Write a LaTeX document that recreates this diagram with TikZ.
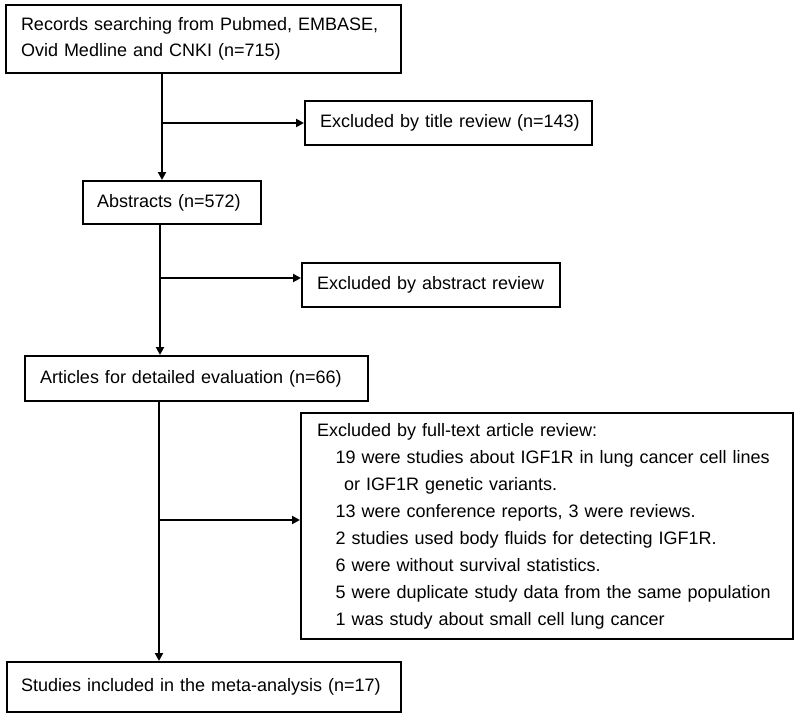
\documentclass[tikz,border=0pt]{standalone}
\usepackage{fontspec}
\setmainfont{Liberation Sans}
\usetikzlibrary{arrows.meta}
\begin{document}
\begin{tikzpicture}[x=1pt,y=-1pt,
  box/.style={draw=black, line width=2pt, rectangle, inner xsep=15pt, inner ysep=0pt,
    align=left, font=\fontsize{18}{26}\selectfont, anchor=center},
  arr/.style={line width=2pt, -{Triangle[length=8pt,width=8pt]}},
  ln/.style={line width=2pt}]
\useasboundingbox (0,0) rectangle (800,720);
\fill[white] (0,0) rectangle (800,720);

\node[box, minimum width=395, minimum height=68, text width=365] (rec) at (203.5,39)
  {\mbox{Records searching from Pubmed, EMBASE,}\\\mbox{Ovid Medline and CNKI (n=715)}};
\node[box, minimum width=287, minimum height=44, text width=257] (title) at (448.5,123)
  {\mbox{Excluded by title review (n=143)}};
\node[box, minimum width=178, minimum height=43, text width=150, inner xsep=14pt] (abs) at (172,202.5)
  {\mbox{Abstracts (n=572)}};
\node[box, minimum width=258, minimum height=44, text width=228] (absrev) at (431,285)
  {\mbox{Excluded by abstract review}};
\node[box, minimum width=343, minimum height=45, text width=313] (art) at (196.5,378.5)
  {\mbox{Articles for detailed evaluation (n=66)}};
\node[box, minimum width=492, minimum height=226, text width=460, inner xsep=16pt,
  font=\fontsize{18}{27}\selectfont] (full) at (547,526)
  {Excluded by full-text article review:\\
   \hspace*{18.5pt}\makebox[444pt][s]{19 were studies about IGF1R in lung cancer cell lines}\\
   \hspace*{27pt}or IGF1R genetic variants.\\
   \hspace*{18.5pt}13 were conference reports, 3 were reviews.\\
   \hspace*{18.5pt}2 studies used body fluids for detecting IGF1R.\\
   \hspace*{18.5pt}6 were without survival statistics.\\
   \hspace*{18.5pt}\mbox{5 were duplicate study data from the same population}\\
   \hspace*{18.5pt}1 was study about small cell lung cancer};
\node[box, minimum width=394, minimum height=50, text width=366, inner xsep=14pt] (fin) at (204,687)
  {\mbox{Studies included in the meta-analysis (n=17)}};

\coordinate (c1) at (162,0);
\coordinate (c2) at (160,0);
\coordinate (c3) at (159,0);
\coordinate (b1) at (162,123);
\coordinate (b2) at (160,278);
\coordinate (b3) at (159,520);

\draw[arr] (c1 |- rec.south) -- (c1 |- abs.north);
\draw[arr] (b1) -- (b1 -| title.west);
\draw[arr] (c2 |- abs.south) -- (c2 |- art.north);
\draw[arr] (b2) -- (b2 -| absrev.west);
\draw[arr] (c3 |- art.south) -- (c3 |- fin.north);
\draw[arr] (b3) -- (b3 -| full.west);
\end{tikzpicture}
\end{document}
